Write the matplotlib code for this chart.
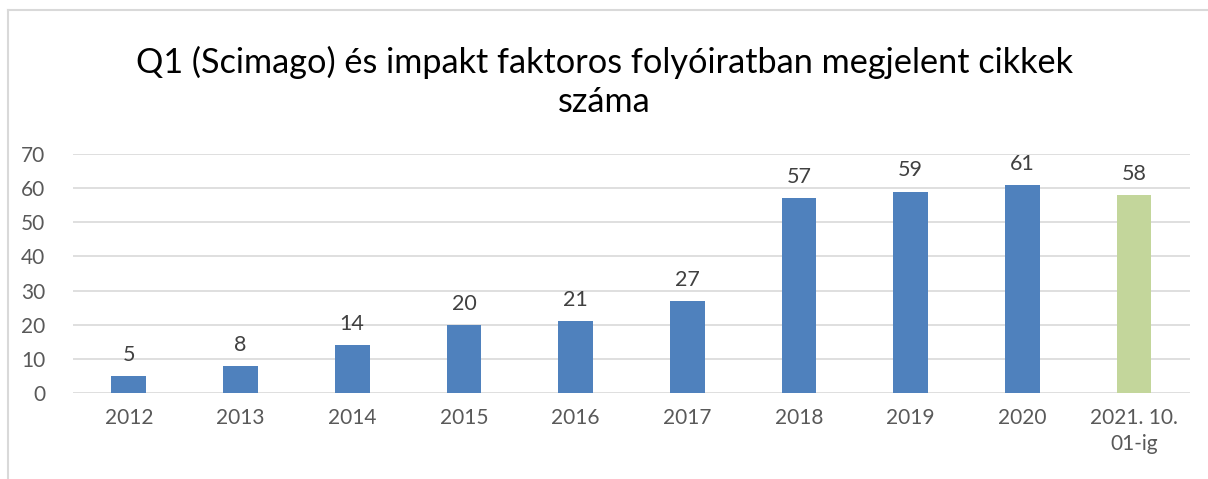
import matplotlib.pyplot as plt
from matplotlib.lines import Line2D

years = ['2012', '2013', '2014', '2015', '2016', '2017', '2018', '2019', '2020', '2021. 10.\n01-ig']
counts = [5, 8, 14, 20, 21, 27, 57, 59, 61, 58]
colors = ['#4F81BD'] * 9 + ['#C3D69B']

plt.rcParams['font.family'] = ['Lato', 'DejaVu Sans']

fig = plt.figure(figsize=(12.08, 4.79), dpi=100)
ax = fig.add_axes([0.0604, 0.1795, 0.9246, 0.499])

x = range(len(years))
ax.bar(x, counts, width=0.31, color=colors, zorder=3)
for i, v in enumerate(counts):
    ax.annotate(str(v), (i, v), xytext=(0, 8), textcoords='offset points',
                ha='center', va='bottom', fontsize=15.5, color='#404040')

ax.set_xlim(-0.5, len(years) - 0.5)
ax.set_ylim(0, 70)
ax.set_yticks(range(0, 71, 10))
ax.set_xticks(list(x))
ax.set_xticklabels(years, fontsize=15, color='#595959', linespacing=1.35)
ax.tick_params(axis='y', labelsize=15, labelcolor='#595959', length=0, pad=20)
ax.tick_params(axis='x', length=0, pad=11)
ax.grid(axis='y', color='#D9D9D9', linewidth=1.2, zorder=0)
for s in ax.spines.values():
    s.set_visible(False)

fig.text(0.5, 0.829, 'Q1 (Scimago) és impakt faktoros folyóiratban megjelent cikkek\nszáma',
         ha='center', va='center', fontsize=24.7, color='#000000', linespacing=1.25)

# chart border (partly cut off in the original)
fig.add_artist(Line2D([8 / 1208, 8 / 1208], [0, 1 - 10 / 479], color='#D9D9D9', lw=1.5))
fig.add_artist(Line2D([8 / 1208, 1], [1 - 10 / 479, 1 - 10 / 479], color='#D9D9D9', lw=1.5))

fig.savefig('out.png', dpi=100)
